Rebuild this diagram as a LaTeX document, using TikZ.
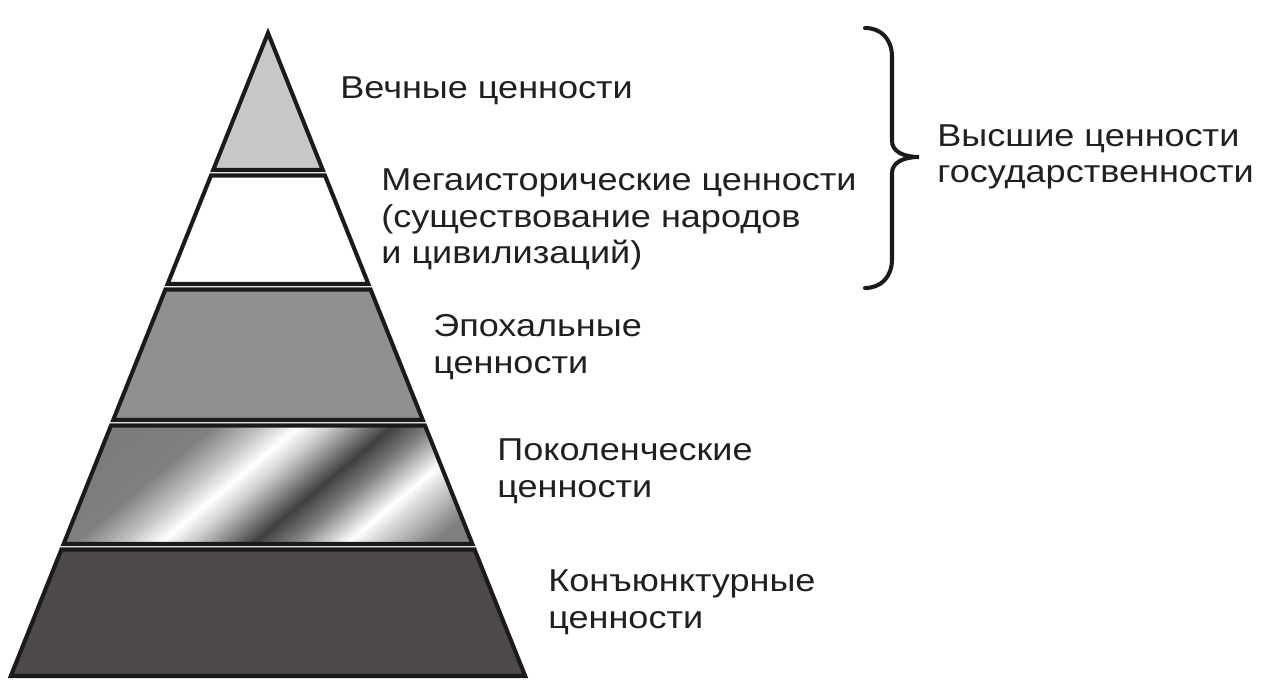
\documentclass[tikz,border=0pt]{standalone}
\usepackage{fontspec}
\setmainfont[FakeStretch=1.14]{Liberation Sans}
\usepackage{xcolor}
\usepackage{tikz}
\usetikzlibrary{positioning}
\definecolor{EdgeBlack}{RGB}{28,25,26}
\definecolor{TopGray}{RGB}{200,200,200}
\definecolor{MidGray}{RGB}{143,143,143}
\definecolor{BaseGray}{RGB}{77,73,75}
\definecolor{LabelBlack}{RGB}{35,31,32}
\pgfdeclarehorizontalshading{chrome}{100bp}{color(0bp)=(black!55); color(34bp)=(black!50);
  color(40bp)=(black!25); color(45bp)=(white); color(49bp)=(black!20); color(57bp)=(black!75);
  color(62bp)=(black!50); color(69bp)=(white); color(72bp)=(black!15); color(80bp)=(black!50);
  color(100bp)=(black!50)}
\tikzset{
  layer/.style={draw=EdgeBlack, line width=2.3pt, line join=miter},
  lbl/.style={font=\fontsize{18}{20.8}\selectfont, text=LabelBlack, align=left, inner sep=0pt},
  bracket/.style={draw=EdgeBlack, line width=2.3pt, line cap=round}
}

\begin{document}
\begin{tikzpicture}
  \useasboundingbox (0,0) rectangle (25.5,13.92);

  % pyramid, top to bottom
  \draw[layer, fill=TopGray] (5.36,13.26) -- (6.456,10.52) -- (4.264,10.52) -- cycle;
  \draw[layer, fill=white] (4.22,10.41) -- (6.50,10.41) -- (7.368,8.24) -- (3.352,8.24) -- cycle;
  \draw[layer, fill=MidGray] (3.308,8.13) -- (7.412,8.13) -- (8.456,5.52) -- (2.264,5.52) -- cycle;
  \draw[layer, shade, shading=chrome, shading angle=-50] (2.22,5.41) -- (8.50,5.41) -- (9.448,3.04) -- (1.272,3.04) -- cycle;
  \draw[layer, fill=BaseGray] (1.228,2.93) -- (9.492,2.93) -- (10.504,0.40) -- (0.216,0.40) -- cycle;

  % labels (base = last line)
  \node[lbl, anchor=base west] (eternal) at (6.80,11.94) {Вечные ценности};
  \node[lbl, anchor=base west] (megahist) at (7.62,8.64) {Мегаисторические ценности\\(существование народов\\и цивилизаций)};
  \node[lbl, anchor=base west] (epoch) at (8.66,6.45) {Эпохальные\\ценности};
  \node[lbl, anchor=base west] (generation) at (9.94,3.97) {Поколенческие\\ценности};
  \node[lbl, anchor=base west] (conjuncture) at (10.96,1.35) {Конъюнктурные\\ценности};

  % brace over the two top levels
  \coordinate (brtop) at (17.30,13.36);
  \coordinate (brtip) at (18.38,10.78);
  \coordinate (brbot) at (17.30,8.16);
  \draw[bracket] (brtop) .. controls (17.62,13.36) and (17.84,13.14) .. (17.84,12.78)
    -- (17.84,11.10) .. controls (17.84,10.90) and (18.05,10.78) .. (brtip)
    .. controls (18.05,10.78) and (17.84,10.66) .. (17.84,10.46)
    -- (17.84,8.74) .. controls (17.84,8.38) and (17.62,8.16) .. (brbot);
  \node[lbl, right=0.36cm of brtip] (supreme) {Высшие ценности\\государственности};
\end{tikzpicture}
\end{document}
